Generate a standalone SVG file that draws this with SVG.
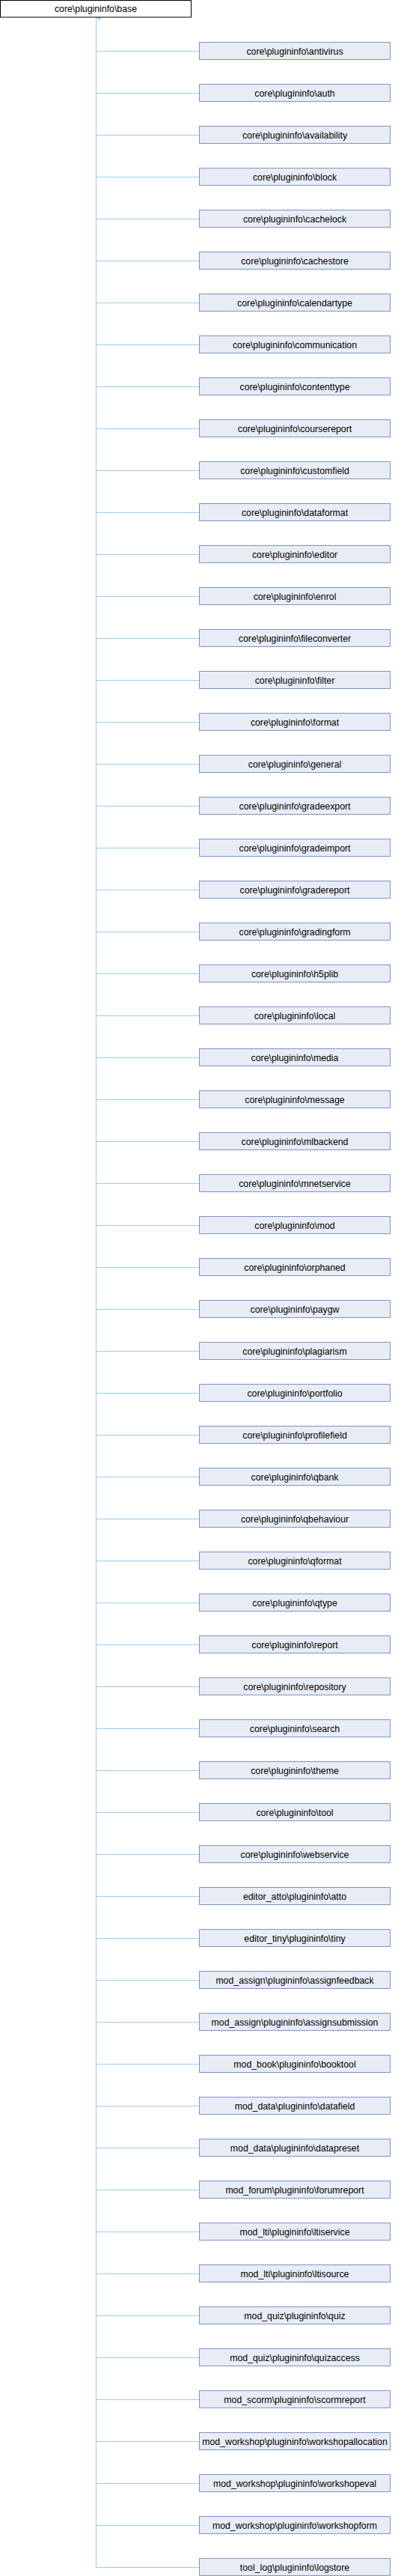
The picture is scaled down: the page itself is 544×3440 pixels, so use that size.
<svg xmlns="http://www.w3.org/2000/svg" width="544" height="3440" viewBox="0 0 544 3440">
<style>
.base rect{fill:#ffffff;stroke:#000000;stroke-width:1}
.n rect{fill:#e8ecf5;stroke:#7b93c7;stroke-width:1}
text{font-family:"Liberation Sans",Arial,sans-serif;font-size:12.3px;fill:#000000;text-anchor:middle}
.c line{stroke:#9acdea;stroke-width:1}
</style>
<defs>
<marker id="ah" viewBox="0 0 6 6" refX="3" refY="0" markerWidth="6" markerHeight="6" orient="auto" markerUnits="userSpaceOnUse">
<path d="M0,6 L3,0 L6,6 Z" fill="#9acdea"/>
</marker>
</defs>
<rect width="544" height="3440" fill="#ffffff"/>
<g class="c" id="connectors">
<line x1="128.5" y1="3428.5" x2="128.5" y2="24" marker-end="url(#ah)"/>
<line x1="128.5" y1="68.5" x2="266" y2="68.5"/>
<line x1="128.5" y1="124.5" x2="266" y2="124.5"/>
<line x1="128.5" y1="180.5" x2="266" y2="180.5"/>
<line x1="128.5" y1="236.5" x2="266" y2="236.5"/>
<line x1="128.5" y1="292.5" x2="266" y2="292.5"/>
<line x1="128.5" y1="348.5" x2="266" y2="348.5"/>
<line x1="128.5" y1="404.5" x2="266" y2="404.5"/>
<line x1="128.5" y1="460.5" x2="266" y2="460.5"/>
<line x1="128.5" y1="516.5" x2="266" y2="516.5"/>
<line x1="128.5" y1="572.5" x2="266" y2="572.5"/>
<line x1="128.5" y1="628.5" x2="266" y2="628.5"/>
<line x1="128.5" y1="684.5" x2="266" y2="684.5"/>
<line x1="128.5" y1="740.5" x2="266" y2="740.5"/>
<line x1="128.5" y1="796.5" x2="266" y2="796.5"/>
<line x1="128.5" y1="852.5" x2="266" y2="852.5"/>
<line x1="128.5" y1="908.5" x2="266" y2="908.5"/>
<line x1="128.5" y1="964.5" x2="266" y2="964.5"/>
<line x1="128.5" y1="1020.5" x2="266" y2="1020.5"/>
<line x1="128.5" y1="1076.5" x2="266" y2="1076.5"/>
<line x1="128.5" y1="1132.5" x2="266" y2="1132.5"/>
<line x1="128.5" y1="1188.5" x2="266" y2="1188.5"/>
<line x1="128.5" y1="1244.5" x2="266" y2="1244.5"/>
<line x1="128.5" y1="1300.5" x2="266" y2="1300.5"/>
<line x1="128.5" y1="1356.5" x2="266" y2="1356.5"/>
<line x1="128.5" y1="1412.5" x2="266" y2="1412.5"/>
<line x1="128.5" y1="1468.5" x2="266" y2="1468.5"/>
<line x1="128.5" y1="1524.5" x2="266" y2="1524.5"/>
<line x1="128.5" y1="1580.5" x2="266" y2="1580.5"/>
<line x1="128.5" y1="1636.5" x2="266" y2="1636.5"/>
<line x1="128.5" y1="1692.5" x2="266" y2="1692.5"/>
<line x1="128.5" y1="1748.5" x2="266" y2="1748.5"/>
<line x1="128.5" y1="1804.5" x2="266" y2="1804.5"/>
<line x1="128.5" y1="1860.5" x2="266" y2="1860.5"/>
<line x1="128.5" y1="1916.5" x2="266" y2="1916.5"/>
<line x1="128.5" y1="1972.5" x2="266" y2="1972.5"/>
<line x1="128.5" y1="2028.5" x2="266" y2="2028.5"/>
<line x1="128.5" y1="2084.5" x2="266" y2="2084.5"/>
<line x1="128.5" y1="2140.5" x2="266" y2="2140.5"/>
<line x1="128.5" y1="2196.5" x2="266" y2="2196.5"/>
<line x1="128.5" y1="2252.5" x2="266" y2="2252.5"/>
<line x1="128.5" y1="2308.5" x2="266" y2="2308.5"/>
<line x1="128.5" y1="2364.5" x2="266" y2="2364.5"/>
<line x1="128.5" y1="2420.5" x2="266" y2="2420.5"/>
<line x1="128.5" y1="2476.5" x2="266" y2="2476.5"/>
<line x1="128.5" y1="2532.5" x2="266" y2="2532.5"/>
<line x1="128.5" y1="2588.5" x2="266" y2="2588.5"/>
<line x1="128.5" y1="2644.5" x2="266" y2="2644.5"/>
<line x1="128.5" y1="2700.5" x2="266" y2="2700.5"/>
<line x1="128.5" y1="2756.5" x2="266" y2="2756.5"/>
<line x1="128.5" y1="2812.5" x2="266" y2="2812.5"/>
<line x1="128.5" y1="2868.5" x2="266" y2="2868.5"/>
<line x1="128.5" y1="2924.5" x2="266" y2="2924.5"/>
<line x1="128.5" y1="2980.5" x2="266" y2="2980.5"/>
<line x1="128.5" y1="3036.5" x2="266" y2="3036.5"/>
<line x1="128.5" y1="3092.5" x2="266" y2="3092.5"/>
<line x1="128.5" y1="3148.5" x2="266" y2="3148.5"/>
<line x1="128.5" y1="3204.5" x2="266" y2="3204.5"/>
<line x1="128.5" y1="3260.5" x2="266" y2="3260.5"/>
<line x1="128.5" y1="3316.5" x2="266" y2="3316.5"/>
<line x1="128.5" y1="3372.5" x2="266" y2="3372.5"/>
<line x1="128.5" y1="3428.5" x2="266" y2="3428.5"/>
</g>
<g id="base" class="base"><rect x="0.5" y="0.5" width="255" height="22.5"/><text x="128" y="16">core\plugininfo\base</text></g>
<g id="n1" class="n"><rect x="266.5" y="56.5" width="255" height="23"/><text x="394" y="72.5">core\plugininfo\antivirus</text></g>
<g id="n2" class="n"><rect x="266.5" y="112.5" width="255" height="23"/><text x="394" y="128.5">core\plugininfo\auth</text></g>
<g id="n3" class="n"><rect x="266.5" y="168.5" width="255" height="23"/><text x="394" y="184.5">core\plugininfo\availability</text></g>
<g id="n4" class="n"><rect x="266.5" y="224.5" width="255" height="23"/><text x="394" y="240.5">core\plugininfo\block</text></g>
<g id="n5" class="n"><rect x="266.5" y="280.5" width="255" height="23"/><text x="394" y="296.5">core\plugininfo\cachelock</text></g>
<g id="n6" class="n"><rect x="266.5" y="336.5" width="255" height="23"/><text x="394" y="352.5">core\plugininfo\cachestore</text></g>
<g id="n7" class="n"><rect x="266.5" y="392.5" width="255" height="23"/><text x="394" y="408.5">core\plugininfo\calendartype</text></g>
<g id="n8" class="n"><rect x="266.5" y="448.5" width="255" height="23"/><text x="394" y="464.5">core\plugininfo\communication</text></g>
<g id="n9" class="n"><rect x="266.5" y="504.5" width="255" height="23"/><text x="394" y="520.5">core\plugininfo\contenttype</text></g>
<g id="n10" class="n"><rect x="266.5" y="560.5" width="255" height="23"/><text x="394" y="576.5">core\plugininfo\coursereport</text></g>
<g id="n11" class="n"><rect x="266.5" y="616.5" width="255" height="23"/><text x="394" y="632.5">core\plugininfo\customfield</text></g>
<g id="n12" class="n"><rect x="266.5" y="672.5" width="255" height="23"/><text x="394" y="688.5">core\plugininfo\dataformat</text></g>
<g id="n13" class="n"><rect x="266.5" y="728.5" width="255" height="23"/><text x="394" y="744.5">core\plugininfo\editor</text></g>
<g id="n14" class="n"><rect x="266.5" y="784.5" width="255" height="23"/><text x="394" y="800.5">core\plugininfo\enrol</text></g>
<g id="n15" class="n"><rect x="266.5" y="840.5" width="255" height="23"/><text x="394" y="856.5">core\plugininfo\fileconverter</text></g>
<g id="n16" class="n"><rect x="266.5" y="896.5" width="255" height="23"/><text x="394" y="912.5">core\plugininfo\filter</text></g>
<g id="n17" class="n"><rect x="266.5" y="952.5" width="255" height="23"/><text x="394" y="968.5">core\plugininfo\format</text></g>
<g id="n18" class="n"><rect x="266.5" y="1008.5" width="255" height="23"/><text x="394" y="1024.5">core\plugininfo\general</text></g>
<g id="n19" class="n"><rect x="266.5" y="1064.5" width="255" height="23"/><text x="394" y="1080.5">core\plugininfo\gradeexport</text></g>
<g id="n20" class="n"><rect x="266.5" y="1120.5" width="255" height="23"/><text x="394" y="1136.5">core\plugininfo\gradeimport</text></g>
<g id="n21" class="n"><rect x="266.5" y="1176.5" width="255" height="23"/><text x="394" y="1192.5">core\plugininfo\gradereport</text></g>
<g id="n22" class="n"><rect x="266.5" y="1232.5" width="255" height="23"/><text x="394" y="1248.5">core\plugininfo\gradingform</text></g>
<g id="n23" class="n"><rect x="266.5" y="1288.5" width="255" height="23"/><text x="394" y="1304.5">core\plugininfo\h5plib</text></g>
<g id="n24" class="n"><rect x="266.5" y="1344.5" width="255" height="23"/><text x="394" y="1360.5">core\plugininfo\local</text></g>
<g id="n25" class="n"><rect x="266.5" y="1400.5" width="255" height="23"/><text x="394" y="1416.5">core\plugininfo\media</text></g>
<g id="n26" class="n"><rect x="266.5" y="1456.5" width="255" height="23"/><text x="394" y="1472.5">core\plugininfo\message</text></g>
<g id="n27" class="n"><rect x="266.5" y="1512.5" width="255" height="23"/><text x="394" y="1528.5">core\plugininfo\mlbackend</text></g>
<g id="n28" class="n"><rect x="266.5" y="1568.5" width="255" height="23"/><text x="394" y="1584.5">core\plugininfo\mnetservice</text></g>
<g id="n29" class="n"><rect x="266.5" y="1624.5" width="255" height="23"/><text x="394" y="1640.5">core\plugininfo\mod</text></g>
<g id="n30" class="n"><rect x="266.5" y="1680.5" width="255" height="23"/><text x="394" y="1696.5">core\plugininfo\orphaned</text></g>
<g id="n31" class="n"><rect x="266.5" y="1736.5" width="255" height="23"/><text x="394" y="1752.5">core\plugininfo\paygw</text></g>
<g id="n32" class="n"><rect x="266.5" y="1792.5" width="255" height="23"/><text x="394" y="1808.5">core\plugininfo\plagiarism</text></g>
<g id="n33" class="n"><rect x="266.5" y="1848.5" width="255" height="23"/><text x="394" y="1864.5">core\plugininfo\portfolio</text></g>
<g id="n34" class="n"><rect x="266.5" y="1904.5" width="255" height="23"/><text x="394" y="1920.5">core\plugininfo\profilefield</text></g>
<g id="n35" class="n"><rect x="266.5" y="1960.5" width="255" height="23"/><text x="394" y="1976.5">core\plugininfo\qbank</text></g>
<g id="n36" class="n"><rect x="266.5" y="2016.5" width="255" height="23"/><text x="394" y="2032.5">core\plugininfo\qbehaviour</text></g>
<g id="n37" class="n"><rect x="266.5" y="2072.5" width="255" height="23"/><text x="394" y="2088.5">core\plugininfo\qformat</text></g>
<g id="n38" class="n"><rect x="266.5" y="2128.5" width="255" height="23"/><text x="394" y="2144.5">core\plugininfo\qtype</text></g>
<g id="n39" class="n"><rect x="266.5" y="2184.5" width="255" height="23"/><text x="394" y="2200.5">core\plugininfo\report</text></g>
<g id="n40" class="n"><rect x="266.5" y="2240.5" width="255" height="23"/><text x="394" y="2256.5">core\plugininfo\repository</text></g>
<g id="n41" class="n"><rect x="266.5" y="2296.5" width="255" height="23"/><text x="394" y="2312.5">core\plugininfo\search</text></g>
<g id="n42" class="n"><rect x="266.5" y="2352.5" width="255" height="23"/><text x="394" y="2368.5">core\plugininfo\theme</text></g>
<g id="n43" class="n"><rect x="266.5" y="2408.5" width="255" height="23"/><text x="394" y="2424.5">core\plugininfo\tool</text></g>
<g id="n44" class="n"><rect x="266.5" y="2464.5" width="255" height="23"/><text x="394" y="2480.5">core\plugininfo\webservice</text></g>
<g id="n45" class="n"><rect x="266.5" y="2520.5" width="255" height="23"/><text x="394" y="2536.5">editor_atto\plugininfo\atto</text></g>
<g id="n46" class="n"><rect x="266.5" y="2576.5" width="255" height="23"/><text x="394" y="2592.5">editor_tiny\plugininfo\tiny</text></g>
<g id="n47" class="n"><rect x="266.5" y="2632.5" width="255" height="23"/><text x="394" y="2648.5">mod_assign\plugininfo\assignfeedback</text></g>
<g id="n48" class="n"><rect x="266.5" y="2688.5" width="255" height="23"/><text x="394" y="2704.5">mod_assign\plugininfo\assignsubmission</text></g>
<g id="n49" class="n"><rect x="266.5" y="2744.5" width="255" height="23"/><text x="394" y="2760.5">mod_book\plugininfo\booktool</text></g>
<g id="n50" class="n"><rect x="266.5" y="2800.5" width="255" height="23"/><text x="394" y="2816.5">mod_data\plugininfo\datafield</text></g>
<g id="n51" class="n"><rect x="266.5" y="2856.5" width="255" height="23"/><text x="394" y="2872.5">mod_data\plugininfo\datapreset</text></g>
<g id="n52" class="n"><rect x="266.5" y="2912.5" width="255" height="23"/><text x="394" y="2928.5">mod_forum\plugininfo\forumreport</text></g>
<g id="n53" class="n"><rect x="266.5" y="2968.5" width="255" height="23"/><text x="394" y="2984.5">mod_lti\plugininfo\ltiservice</text></g>
<g id="n54" class="n"><rect x="266.5" y="3024.5" width="255" height="23"/><text x="394" y="3040.5">mod_lti\plugininfo\ltisource</text></g>
<g id="n55" class="n"><rect x="266.5" y="3080.5" width="255" height="23"/><text x="394" y="3096.5">mod_quiz\plugininfo\quiz</text></g>
<g id="n56" class="n"><rect x="266.5" y="3136.5" width="255" height="23"/><text x="394" y="3152.5">mod_quiz\plugininfo\quizaccess</text></g>
<g id="n57" class="n"><rect x="266.5" y="3192.5" width="255" height="23"/><text x="394" y="3208.5">mod_scorm\plugininfo\scormreport</text></g>
<g id="n58" class="n"><rect x="266.5" y="3248.5" width="255" height="23"/><text x="394" y="3264.5">mod_workshop\plugininfo\workshopallocation</text></g>
<g id="n59" class="n"><rect x="266.5" y="3304.5" width="255" height="23"/><text x="394" y="3320.5">mod_workshop\plugininfo\workshopeval</text></g>
<g id="n60" class="n"><rect x="266.5" y="3360.5" width="255" height="23"/><text x="394" y="3376.5">mod_workshop\plugininfo\workshopform</text></g>
<g id="n61" class="n"><rect x="266.5" y="3416.5" width="255" height="23"/><text x="394" y="3432.5">tool_log\plugininfo\logstore</text></g>
</svg>
